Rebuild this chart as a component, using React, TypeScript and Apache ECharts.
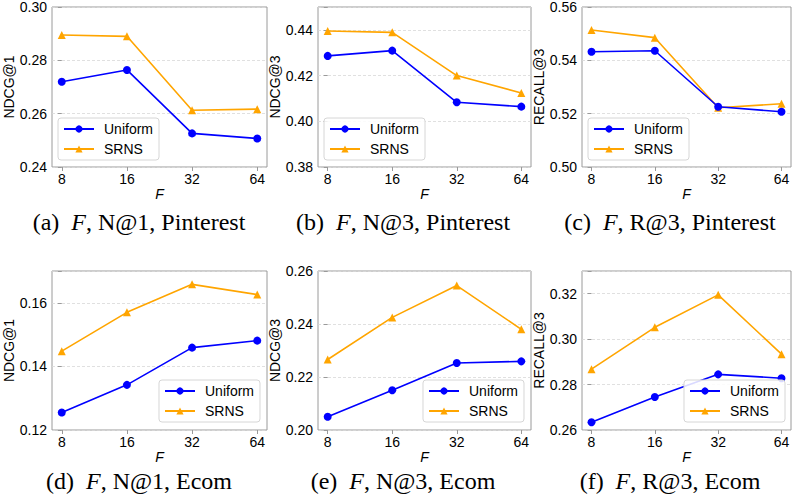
import React, { useEffect, useRef } from "react";
import * as echarts from "echarts";

const F_LABELS = ["8", "16", "32", "64"];
const SERIES_NAMES = ["Uniform", "SRNS"];

// (a) Pinterest NDCG@1
const A_UNIFORM = [0.272, 0.2764, 0.2526, 0.2507];
const A_SRNS = [0.2895, 0.289, 0.2613, 0.2617];
// (b) Pinterest NDCG@3
const B_UNIFORM = [0.4286, 0.4309, 0.4083, 0.4064];
const B_SRNS = [0.4395, 0.4389, 0.42, 0.4124];
// (c) Pinterest RECALL@3
const C_UNIFORM = [0.5432, 0.5436, 0.5226, 0.5207];
const C_SRNS = [0.5514, 0.5485, 0.5222, 0.5237];
// (d) Ecom NDCG@1
const D_UNIFORM = [0.1255, 0.1342, 0.1459, 0.1481];
const D_SRNS = [0.1448, 0.157, 0.1658, 0.1626];
// (e) Ecom NDCG@3
const E_UNIFORM = [0.205, 0.215, 0.2253, 0.2259];
const E_SRNS = [0.2266, 0.2425, 0.2545, 0.238];
// (f) Ecom RECALL@3
const F_UNIFORM = [0.2634, 0.2745, 0.2845, 0.2828];
const F_SRNS = [0.2868, 0.3052, 0.3195, 0.2934];

const Y_NAMES = ["NDCG@1", "NDCG@3", "RECALL@3", "NDCG@1", "NDCG@3", "RECALL@3"];
const Y_MIN = [0.24, 0.38, 0.5, 0.12, 0.2, 0.26];
const Y_MAX = [0.3, 0.45, 0.56, 0.17, 0.26, 0.33];
const CAPTION_LETTERS = ["(a)", "(b)", "(c)", "(d)", "(e)", "(f)"];
const CAPTION_METRICS = ["N@1", "N@3", "R@3", "N@1", "N@3", "R@3"];
const CAPTION_DATASETS = ["Pinterest", "Pinterest", "Pinterest", "Ecom", "Ecom", "Ecom"];

const PANELS = [
  [A_UNIFORM, A_SRNS],
  [B_UNIFORM, B_SRNS],
  [C_UNIFORM, C_SRNS],
  [D_UNIFORM, D_SRNS],
  [E_UNIFORM, E_SRNS],
  [F_UNIFORM, F_SRNS],
];

const COL_LEFT = [52, 318, 582];
const COL_WIDTH = [215, 213, 209];
const ROW_TOP = [7, 271];
const ROW_HEIGHT = [160, 159];
const CAPTION_CX = [139, 403, 670];
const CAPTION_Y = [222, 481];
const LEGEND_POS = [
  { left: 58, top: 118 },
  { left: 324, top: 118 },
  { left: 588, top: 118 },
  { right: 533, top: 380 },
  { right: 269, top: 380 },
  { right: 8, top: 380 },
];

const SANS = "'Liberation Sans', Arial, Helvetica, sans-serif";
const SERIF = "'Liberation Serif', 'Times New Roman', serif";
const COLORS = ["#0000ff", "#ffa500"];
const SYMBOLS = ["circle", "triangle"];

export default function App() {
  const ref = useRef<HTMLDivElement>(null);
  useEffect(() => {
    if (!ref.current) return;
    const chart = echarts.init(ref.current, undefined, { renderer: "svg" });
    const grid: any[] = [];
    const xAxis: any[] = [];
    const yAxis: any[] = [];
    const series: any[] = [];
    const legend: any[] = [];
    const graphic: any[] = [];
    PANELS.forEach((panel, p) => {
      const row = Math.floor(p / 3);
      const col = p % 3;
      grid.push({
        left: COL_LEFT[col],
        top: ROW_TOP[row],
        width: COL_WIDTH[col],
        height: ROW_HEIGHT[row],
        show: true,
        borderColor: "#9a9a9a",
        borderWidth: 1,
        backgroundColor: "transparent",
      });
      xAxis.push({
        type: "value",
        gridIndex: p,
        min: -0.15,
        max: 3.15,
        name: "F",
        nameLocation: "middle",
        nameGap: 18,
        nameTextStyle: { fontFamily: SANS, fontSize: 14, fontStyle: "italic", color: "#000" },
        axisLine: { show: false },
        axisTick: { show: true, customValues: [0, 1, 2, 3], length: 4, lineStyle: { color: "#9a9a9a" } },
        axisLabel: {
          customValues: [0, 1, 2, 3],
          formatter: (v: number) => F_LABELS[Math.round(v)] ?? "",
          fontFamily: SANS,
          fontSize: 14,
          color: "#000",
          margin: 5,
        },
        splitLine: { show: false },
      });
      yAxis.push({
        type: "value",
        gridIndex: p,
        min: Y_MIN[p],
        max: Y_MAX[p],
        interval: 0.02,
        name: Y_NAMES[p],
        nameLocation: "middle",
        nameGap: 30,
        nameTextStyle: { fontFamily: SANS, fontSize: 14, color: "#000" },
        axisLine: { show: false },
        axisTick: { show: true, length: 4, lineStyle: { color: "#9a9a9a" } },
        axisLabel: {
          formatter: (v: number) => {
            const k = v / 0.02;
            return Math.abs(k - Math.round(k)) < 1e-6 ? v.toFixed(2) : "";
          },
          fontFamily: SANS,
          fontSize: 14,
          color: "#000",
          margin: 5,
        },
        splitLine: { show: true, lineStyle: { color: "#d8d8d8", type: [3, 2], width: 0.8 } },
      });
      panel.forEach((vals, s) => {
        series.push({
          type: "line",
          name: SERIES_NAMES[s],
          xAxisIndex: p,
          yAxisIndex: p,
          data: vals.map((v, i) => [i, v]),
          symbol: SYMBOLS[s],
          symbolSize: 8,
          lineStyle: { color: COLORS[s], width: 1.6 },
          itemStyle: { color: COLORS[s] },
          z: 3 - s,
        });
      });
      legend.push({
        ...LEGEND_POS[p],
        orient: "vertical",
        data: SERIES_NAMES,
        itemWidth: 30,
        itemHeight: 9,
        itemGap: 4,
        padding: [3, 6, 3, 5],
        backgroundColor: "rgba(255,255,255,0.85)",
        borderColor: "#d6d6d6",
        borderWidth: 1,
        borderRadius: 3,
        textStyle: { fontFamily: SANS, fontSize: 14, lineHeight: 16, color: "#000", padding: [0, 0, 0, 5] },
        selectedMode: false,
      });
      graphic.push({
        type: "text",
        x: CAPTION_CX[col],
        y: CAPTION_Y[row],
        style: {
          text: `{n|${CAPTION_LETTERS[p]}  }{i|F}{n|, ${CAPTION_METRICS[p]}, ${CAPTION_DATASETS[p]}}`,
          align: "center",
          verticalAlign: "middle",
          rich: {
            n: { fontFamily: SERIF, fontSize: 24, fill: "#000" },
            i: { fontFamily: SERIF, fontSize: 24, fontStyle: "italic", fill: "#000" },
          },
        },
      });
    });
    chart.setOption({
      animation: false,
      backgroundColor: "#fff",
      grid,
      xAxis,
      yAxis,
      series,
      legend,
      graphic,
    });
    return () => chart.dispose();
  }, []);
  return (
    <div
      ref={ref}
      style={{ position: "absolute", left: 0, top: 0, width: 793, height: 502, background: "#fff" }}
    />
  );
}
